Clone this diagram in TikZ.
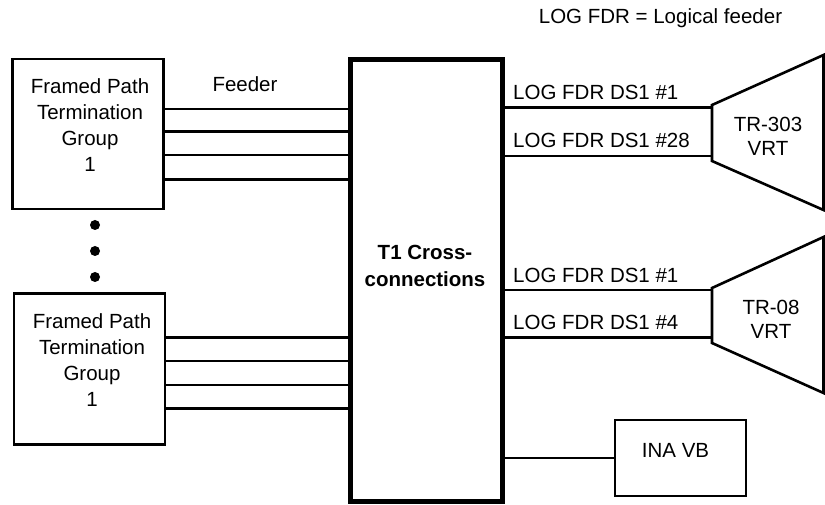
\documentclass[tikz,border=0pt]{standalone}
\usepackage{fontspec}
\setmainfont{Liberation Sans}
\begin{document}
\begin{tikzpicture}[x=1pt,y=-1pt,
  every node/.style={font=\fontsize{20.5}{26}\selectfont, inner sep=0pt},
  thinline/.style={line width=2.6pt},
  frame/.style={draw, rectangle, line width=2.6pt},
  ccframe/.style={draw, rectangle, line width=5pt},
  dotmark/.style={circle, fill, minimum size=10pt},
  lbl/.style={anchor=base west},
  boxtext/.style={align=center}]
\useasboundingbox (0,0) rectangle (825,505);

% legend
\node[anchor=base] (legend) at (660.5,24) {LOG FDR = Logical feeder};

% framed path termination groups
\node[frame, minimum width=151pt, minimum height=150pt] (fpt1) at (88,134) {};
\node[boxtext] (fpt1t) at (90,125) {Framed Path\\Termination\\Group\\1};
\node[frame, minimum width=151pt, minimum height=151pt] (fpt2) at (89.5,369) {};
\node[boxtext] (fpt2t) at (92,360) {Framed Path\\Termination\\Group\\1};

% dots
\node[dotmark] (d1) at (95,225) {};
\node[dotmark] (d2) at (95,251) {};
\node[dotmark] (d3) at (95,277) {};

% cross-connect box
\node[ccframe, minimum width=152pt, minimum height=441pt] (cc) at (426,280.5) {};
\node[boxtext, font=\fontsize{20.5}{27}\selectfont\bfseries] (cct) at (425,266) {T1 Cross-\\connections};

% feeders
\node[anchor=base] (feeder) at (245,92) {Feeder};
\foreach \y in {109,131.5,155,179.3}
  \draw[thinline] (fpt1.east |- 0,\y) -- (cc.west |- 0,\y);
\foreach \y in {337.5,361,385,408.7}
  \draw[thinline] (fpt2.east |- 0,\y) -- (cc.west |- 0,\y);

% TR-303 VRT
\coordinate (ta1) at (712,105);
\coordinate (ta2) at (823.5,55);
\coordinate (ta3) at (823.5,210);
\coordinate (ta4) at (712,161);
\draw[thinline] (ta1) -- (ta2) -- (ta3) -- (ta4) -- cycle;
\node[boxtext, font=\fontsize{20.5}{24}\selectfont] (tr303) at (768,136) {TR-303\\VRT};
\draw[thinline] (cc.east |- 0,107.7) -- (ta1 |- 0,107.7);
\draw[thinline] (cc.east |- 0,156) -- (ta1 |- 0,156);
\node[lbl] (l1) at (513,100) {LOG FDR DS1 \#1};
\node[lbl] (l2) at (513,148) {LOG FDR DS1 \#28};

% TR-08 VRT
\coordinate (tb1) at (712,288);
\coordinate (tb2) at (823.5,237);
\coordinate (tb3) at (823.5,393);
\coordinate (tb4) at (712,343);
\draw[thinline] (tb1) -- (tb2) -- (tb3) -- (tb4) -- cycle;
\node[boxtext, font=\fontsize{20.5}{24.5}\selectfont] (tr08) at (771,319.5) {TR-08\\VRT};
\draw[thinline] (cc.east |- 0,290) -- (tb1 |- 0,290);
\draw[thinline] (cc.east |- 0,337.7) -- (tb1 |- 0,337.7);
\node[lbl] (l3) at (513,283) {LOG FDR DS1 \#1};
\node[lbl] (l4) at (513,330) {LOG FDR DS1 \#4};

% INA VB
\node[frame, minimum width=131pt, minimum height=76pt] (ina) at (680.5,458) {};
\node (inat) at (675.5,450.5) {INA VB};
\draw[thinline] (cc.east |- ina.west) -- (ina.west);
\end{tikzpicture}
\end{document}
